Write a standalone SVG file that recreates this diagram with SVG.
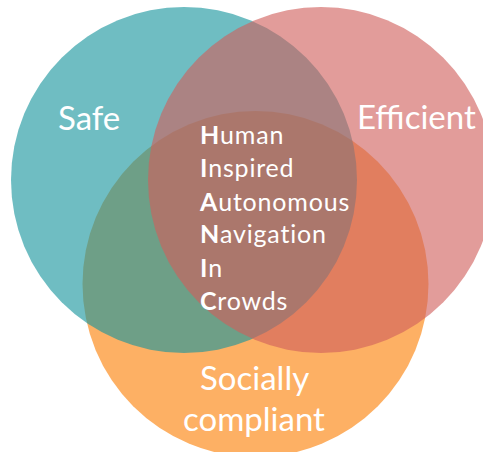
<svg xmlns="http://www.w3.org/2000/svg" width="483" height="452" viewBox="0 0 483 452">
<style>
.lbl{font-family:Lato,"Liberation Sans",sans-serif;fill:#ffffff;font-size:33px}
.core{font-family:Lato,"Liberation Sans",sans-serif;fill:#ffffff;font-size:25px;letter-spacing:0.8px}
.b{font-weight:bold}
</style>
<rect width="483" height="452" fill="#ffffff"/>
<g id="social"><circle cx="255.5" cy="284" r="173" fill="#fdb064"/></g>
<g id="safe"><circle cx="184" cy="180" r="173" fill="#17959d" fill-opacity="0.62"/></g>
<g id="efficient"><circle cx="321" cy="180" r="173" fill="#d05f5c" fill-opacity="0.62"/></g>
<g id="labels">
<text class="lbl" x="58" y="130">Safe</text>
<text class="lbl" x="357" y="129">Efficient</text>
<text class="lbl" x="200" y="390">Socially</text>
<text class="lbl" x="183" y="431">compliant</text>
</g>
<g id="center">
<text class="core" x="200" y="144"><tspan class="b">H</tspan>uman</text>
<text class="core" x="200" y="177"><tspan class="b">I</tspan>nspired</text>
<text class="core" x="200" y="211"><tspan class="b">A</tspan>utonomous</text>
<text class="core" x="200" y="243"><tspan class="b">N</tspan>avigation</text>
<text class="core" x="200" y="277"><tspan class="b">I</tspan>n</text>
<text class="core" x="200" y="310"><tspan class="b">C</tspan>rowds</text>
</g>
</svg>
